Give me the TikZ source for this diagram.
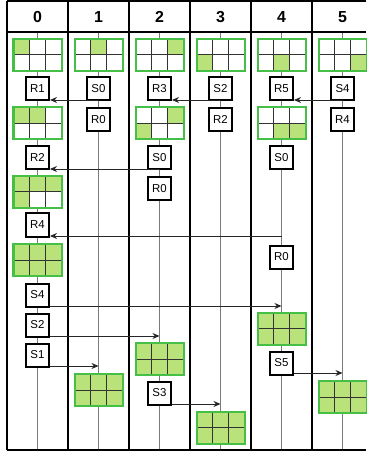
\documentclass[tikz,border=0pt]{standalone}
\usepackage{fontspec}
\setmainfont{Liberation Sans}
\usetikzlibrary{calc,arrows.meta}
\definecolor{gborder}{HTML}{45BF45}
\definecolor{gfill}{HTML}{B9E27B}
\definecolor{lifegray}{HTML}{7A7A7A}
\tikzset{
  frameline/.style={line width=2bp, black},
  lifeline/.style={line width=1.3bp, lifegray},
  opbox/.style={draw=black, line width=2bp, fill=white, minimum width=23bp, minimum height=23bp, inner sep=0pt, font=\fontsize{11.5}{11.5}\selectfont},
  gridbox/.style={fill=white, minimum width=48bp, minimum height=32bp, inner sep=0pt, outer sep=0pt},
  gridline/.style={line width=1bp, black!80},
  gridborder/.style={line width=2bp, gborder},
  cellfill/.style={fill=gfill},
  msg/.style={line width=0.9bp, black!85, -{Stealth[length=7bp,width=6bp]}},
  header/.style={font=\fontsize{16}{16}\selectfont\bfseries}
}
\newcommand{\mygrid}[3]{%
  \node[gridbox] (#1) at (#2) {};
  \foreach \c/\r in {#3} {
    \fill[cellfill] ($(#1.north west)+(\c*16-16,\r*16-16)$) rectangle ++(16,16);
  }
  \draw[gridline] ($(#1.north west)+(16,0)$) -- ($(#1.south west)+(16,0)$);
  \draw[gridline] ($(#1.north west)+(32,0)$) -- ($(#1.south west)+(32,0)$);
  \draw[gridline] ($(#1.north west)+(0,16)$) -- ($(#1.north east)+(0,16)$);
  \draw[gridborder] (#1.north west) rectangle (#1.south east);
}
\begin{document}
\begin{tikzpicture}[x=1bp,y=-1bp]
\fill[white] (0,0) rectangle (366,451);
\useasboundingbox (0,0) rectangle (366,451);
% column centres
\foreach \i in {0,...,5} {
  \coordinate (h\i) at ({37.5+61*\i},32);
  \coordinate (b\i) at ({37.5+61*\i},450);
}
% lifelines
\foreach \i in {0,...,5} { \draw[lifeline] (h\i) -- (b\i); }
% frame
\draw[frameline] (7,1.5) -- (366,1.5);
\draw[frameline] (7,32) -- (366,32);
\draw[frameline] (7,450) -- (366,450);
\foreach \xx in {7,68,129,190,251,312} { \draw[frameline] (\xx,1.5) -- (\xx,450); }
% headers
\foreach \i in {0,...,5} { \node[header] (t\i) at ({37.5+61*\i},17) {\i}; }

% column 0
\mygrid{g0a}{37.5,55}{1/1}
\node[opbox] (r1) at (37.5,89) {R1};
\mygrid{g0b}{37.5,123.5}{1/1,2/1}
\node[opbox] (r2c0) at (37.5,158) {R2};
\mygrid{g0c}{37.5,192}{1/1,2/1,3/1,1/2}
\node[opbox] (r4c0) at (37.5,225) {R4};
\mygrid{g0d}{37.5,260}{1/1,2/1,3/1,1/2,2/2,3/2}
\node[opbox] (s4c0) at (37.5,295) {S4};
\node[opbox] (s2c0) at (37.5,325) {S2};
\node[opbox] (s1c0) at (37.5,355) {S1};

% column 1
\mygrid{g1a}{98.5,55}{2/1}
\node[opbox] (s0c1) at (98.5,89) {S0};
\node[opbox] (r0c1) at (98.5,120) {R0};
\mygrid{g1b}{98.5,390}{1/1,2/1,3/1,1/2,2/2,3/2}

% column 2
\mygrid{g2a}{159.5,55}{3/1}
\node[opbox] (r3c2) at (159.5,89) {R3};
\mygrid{g2b}{159.5,123.5}{3/1,1/2}
\node[opbox] (s0c2) at (159.5,158) {S0};
\node[opbox] (r0c2) at (159.5,188.5) {R0};
\mygrid{g2c}{159.5,359}{1/1,2/1,3/1,1/2,2/2,3/2}
\node[opbox] (s3c2) at (159.5,393) {S3};

% column 3
\mygrid{g3a}{220.5,55}{1/2}
\node[opbox] (s2c3) at (220.5,89) {S2};
\node[opbox] (r2c3) at (220.5,120) {R2};
\mygrid{g3b}{220.5,427.5}{1/1,2/1,3/1,1/2,2/2,3/2}

% column 4
\mygrid{g4a}{281.5,55}{2/2}
\node[opbox] (r5c4) at (281.5,89) {R5};
\mygrid{g4b}{281.5,123.5}{2/2,3/2}
\node[opbox] (s0c4) at (281.5,158) {S0};
\node[opbox] (r0c4) at (281.5,257) {R0};
\mygrid{g4c}{281.5,328.5}{1/1,2/1,3/1,1/2,2/2,3/2}
\node[opbox] (s5c4) at (281.5,363) {S5};

% column 5
\mygrid{g5a}{342.5,55}{3/2}
\node[opbox] (s4c5) at (342.5,89) {S4};
\node[opbox] (r4c5) at (342.5,120) {R4};
\mygrid{g5b}{342.5,397}{1/1,2/1,3/1,1/2,2/2,3/2}

% messages
\draw[msg] ([yshift=1.5bp]r1.south east -| h1) -- ([yshift=1.5bp]r1.south east);
\draw[msg] ([yshift=1.5bp]r3c2.south east -| h3) -- ([yshift=1.5bp]r3c2.south east);
\draw[msg] ([yshift=1.5bp]r5c4.south east -| h5) -- ([yshift=1.5bp]r5c4.south east);
\draw[msg] ([yshift=1.5bp]r2c0.south east -| h2) -- ([yshift=1.5bp]r2c0.south east);
\draw[msg] ([yshift=1.5bp]r4c0.south east -| h4) -- ([yshift=1.5bp]r4c0.south east);
\draw[msg] ([yshift=1.5bp]s4c0.south east) -- ([yshift=1.5bp]s4c0.south east -| h4);
\draw[msg] ([yshift=1.5bp]s2c0.south east) -- ([yshift=1.5bp]s2c0.south east -| h2);
\draw[msg] ([yshift=1.5bp]s1c0.south east) -- ([yshift=1.5bp]s1c0.south east -| h1);
\draw[msg] ([yshift=2.5bp]s5c4.south east) -- ([yshift=2.5bp]s5c4.south east -| h5);
\draw[msg] ([yshift=1.5bp]s3c2.south east) -- ([yshift=1.5bp]s3c2.south east -| h3);
\end{tikzpicture}
\end{document}
